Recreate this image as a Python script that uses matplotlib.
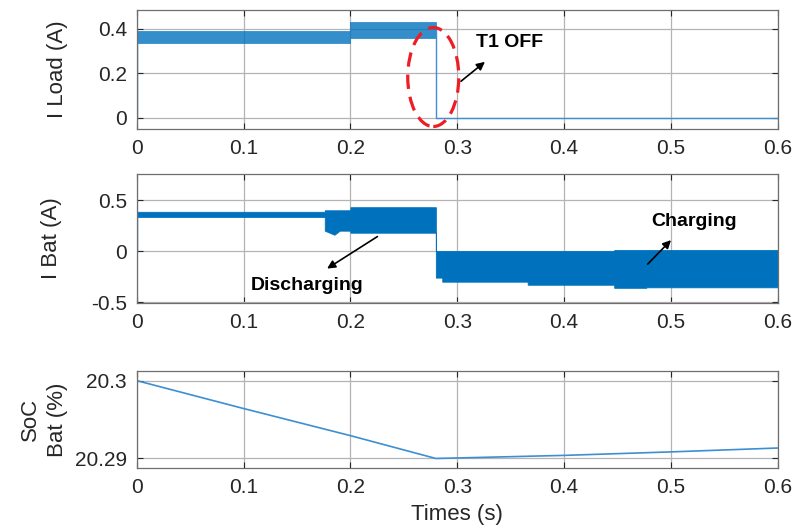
import matplotlib
matplotlib.use("Agg")
import matplotlib.pyplot as plt
from matplotlib.patches import Ellipse

plt.rcParams['font.family'] = ['Liberation Sans', 'DejaVu Sans']

# valores
x_ticks = [0, 0.1, 0.2, 0.3, 0.4, 0.5, 0.6]
x_labels = ['0', '0.1', '0.2', '0.3', '0.4', '0.5', '0.6']

# I Load: faixa de ruido (min/max) ate o desligamento de T1
load_band_t = [0.0, 0.2, 0.2, 0.28]
load_band_lo = [0.335, 0.335, 0.36, 0.36]
load_band_hi = [0.39, 0.39, 0.43, 0.43]
load_start_i = [0.0, 0.36]
load_off_t = [0.28, 0.28, 0.6]
load_off_i = [0.41, 0.0, 0.0]

# I Bat: faixa de ruido (min/max)
bat_t = [0.0, 0.176, 0.176, 0.185, 0.19, 0.2, 0.2, 0.28, 0.28, 0.286, 0.286,
         0.366, 0.366, 0.447, 0.447, 0.477, 0.477, 0.6]
bat_lo = [0.335, 0.335, 0.2, 0.16, 0.2, 0.2, 0.18, 0.18, -0.26, -0.26, -0.30,
          -0.30, -0.33, -0.33, -0.36, -0.36, -0.355, -0.355]
bat_hi = [0.385, 0.385, 0.40, 0.40, 0.40, 0.40, 0.43, 0.43, 0.0, 0.0, 0.0,
          0.0, 0.0, 0.0, 0.01, 0.01, 0.01, 0.01]

# SoC da bateria
soc_t = [0.0, 0.1, 0.2, 0.28, 0.4, 0.5, 0.6]
soc = [20.3, 20.2964, 20.2929, 20.28995, 20.29035, 20.2908, 20.2913]

azul = '#0072BD'
cinza = '#262626'

fig = plt.figure(figsize=(8, 5.29), dpi=100)
ax1 = fig.add_axes([0.171, 0.756, 0.801, 0.225])
ax2 = fig.add_axes([0.171, 0.427, 0.801, 0.244])
ax3 = fig.add_axes([0.171, 0.115, 0.801, 0.183])

for ax in (ax1, ax2, ax3):
    ax.set_xlim(0, 0.6)
    ax.set_xticks(x_ticks)
    ax.set_xticklabels(x_labels)
    ax.grid(True, color='#b4b4b4', linewidth=0.9)
    ax.set_axisbelow(True)
    ax.tick_params(direction='in', top=True, right=True, labelsize=15,
                   colors=cinza, length=4, pad=7)
    for s in ax.spines.values():
        s.set_color('#6e6e6e')
        s.set_linewidth(0.9)

# I Load
ax1.fill_between(load_band_t, load_band_lo, load_band_hi, color=azul, alpha=0.8, linewidth=0.5)
ax1.plot([0, 0], load_start_i, color='#3d8fd1', linewidth=1.0)
ax1.plot(load_off_t, load_off_i, color='#3d8fd1', linewidth=1.0)
ax1.set_ylim(-0.05, 0.485)
ax1.set_yticks([0, 0.2, 0.4])
ax1.set_yticklabels(['0', '0.2', '0.4'])
ax1.set_ylabel('I Load (A)', fontsize=16, color=cinza)
ax1.yaxis.set_label_coords(-0.108, 0.5)
ax1.add_patch(Ellipse((0.2776, 0.184), 0.0478, 0.445, fill=False, edgecolor='#ee1c24',
                      linestyle=(0, (4.5, 2.5)), linewidth=2.3, zorder=5))
ax1.text(0.318, 0.34, 'T1 OFF', fontsize=14, fontweight='bold', va='center', ha='left')
ax1.annotate('', xy=(0.328, 0.26), xytext=(0.3015, 0.157),
             arrowprops=dict(arrowstyle='-|>', color='black', lw=1.2, mutation_scale=12))

# I Bat
ax2.fill_between(bat_t, bat_lo, bat_hi, color=azul, linewidth=0.6)
ax2.plot([0, 0], [0.0, 0.36], color='#3d8fd1', linewidth=1.0)
ax2.set_ylim(-0.51, 0.755)
ax2.set_yticks([-0.5, 0, 0.5])
ax2.set_yticklabels(['-0.5', '0', '0.5'])
ax2.set_ylabel('I Bat (A)', fontsize=16, color=cinza)
ax2.yaxis.set_label_coords(-0.117, 0.5)
ax2.text(0.1065, -0.333, 'Discharging', fontsize=14, fontweight='bold', va='center', ha='left')
ax2.annotate('', xy=(0.176, -0.186), xytext=(0.2275, 0.157),
             arrowprops=dict(arrowstyle='-|>', color='black', lw=1.2, mutation_scale=12))
ax2.text(0.482, 0.294, 'Charging', fontsize=14, fontweight='bold', va='center', ha='left')
ax2.annotate('', xy=(0.502, 0.127), xytext=(0.4766, -0.147),
             arrowprops=dict(arrowstyle='-|>', color='black', lw=1.2, mutation_scale=12))

# SoC
ax3.plot(soc_t, soc, color='#3d8fd1', linewidth=1.2)
ax3.set_ylim(20.2887, 20.3012)
ax3.set_yticks([20.29, 20.3])
ax3.set_yticklabels(['20.29', '20.3'])
ax3.set_ylabel('SoC\nBat (%)', fontsize=16, color=cinza, linespacing=1.4)
ax3.yaxis.set_label_coords(-0.107, 0.5)
ax3.set_xlabel('Times (s)', fontsize=16, color=cinza, labelpad=5)

plt.savefig('out.png', dpi=100)
